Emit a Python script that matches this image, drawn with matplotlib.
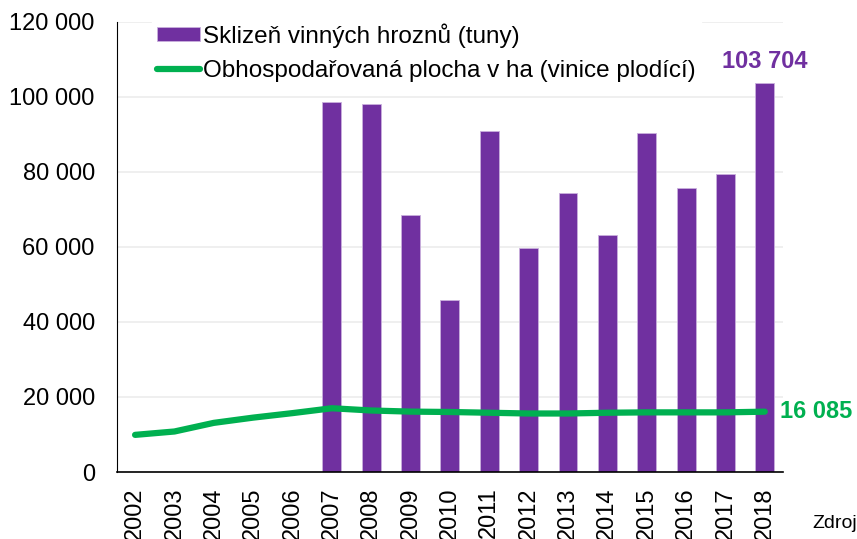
import matplotlib.pyplot as plt
from matplotlib.ticker import FuncFormatter

plt.rcParams['font.family'] = ['Liberation Sans', 'DejaVu Sans']

years = ['2002', '2003', '2004', '2005', '2006', '2007', '2008', '2009', '2010',
         '2011', '2012', '2013', '2014', '2015', '2016', '2017', '2018']
# sklizen v tunach, 2002-2006 bez udaju
harvest = [None, None, None, None, None, 98750, 98050, 68450, 45800,
           91000, 59800, 74400, 63300, 90400, 75650, 79470, 103704]
area = [9900, 10800, 13100, 14500, 15700, 17000, 16400, 16100, 16000,
        15800, 15600, 15600, 15800, 15900, 15900, 15900, 16085]

purple = '#7030A0'
green = '#00B050'

fig = plt.figure(figsize=(8.57, 5.39), dpi=100)
ax = fig.add_axes([0.1365, 0.1243, 0.777, 0.835])

x = list(range(len(years)))
bx = [i for i, v in zip(x, harvest) if v is not None]
bv = [v for v in harvest if v is not None]
bars = ax.bar(bx, bv, width=0.48, color=purple, edgecolor='#c9b0dd', linewidth=0.6,
              label='Sklizeň vinných hroznů (tuny)', zorder=2)
line, = ax.plot(x, area, color=green, lw=4.5, solid_capstyle='round',
                label='Obhospodařovaná plocha v ha (vinice plodící)', zorder=3)

ax.set_xlim(-0.46, len(years) - 0.54)
ax.set_ylim(0, 120000)
ax.set_yticks(range(0, 120001, 20000))
ax.yaxis.set_major_formatter(FuncFormatter(lambda v, p: f'{int(v):,}'.replace(',', ' ')))
ax.set_xticks(x)
ax.set_xticklabels(years, rotation=90)
ax.tick_params(axis='y', length=0, labelsize=17, pad=16)
ax.tick_params(axis='x', length=0, labelsize=17, pad=11)
ax.grid(axis='y', color='#ececec', lw=1.2, zorder=0)
ax.set_axisbelow(True)
for s in ['top', 'right']:
    ax.spines[s].set_visible(False)
ax.spines['left'].set_color('black')
ax.spines['bottom'].set_color('black')
ax.spines['bottom'].set_linewidth(1.2)

ax.annotate('103 704', (x[-1], harvest[-1]), xytext=(0, 7), textcoords='offset points',
            ha='center', va='bottom', color=purple, fontsize=17, fontweight='bold')
ax.annotate('16 085', (x[-1], area[-1]), xytext=(11, 0), textcoords='offset points',
            ha='left', va='center', color=green, fontsize=17, fontweight='bold')

leg = ax.legend([bars, line], [bars.get_label(), line.get_label()],
                loc='upper left', bbox_to_anchor=(0.035, 1.035), fontsize=17.5,
                frameon=True, framealpha=1, edgecolor='white', facecolor='white',
                handlelength=1.75, handleheight=0.5, handletextpad=0.15,
                labelspacing=0.5, borderpad=0.2)
leg.set_zorder(5)

fig.text(812 / 857, 1 - 523 / 539, 'Zdroj', fontsize=14, va='center', ha='left')

fig.savefig('out.png', dpi=100)
